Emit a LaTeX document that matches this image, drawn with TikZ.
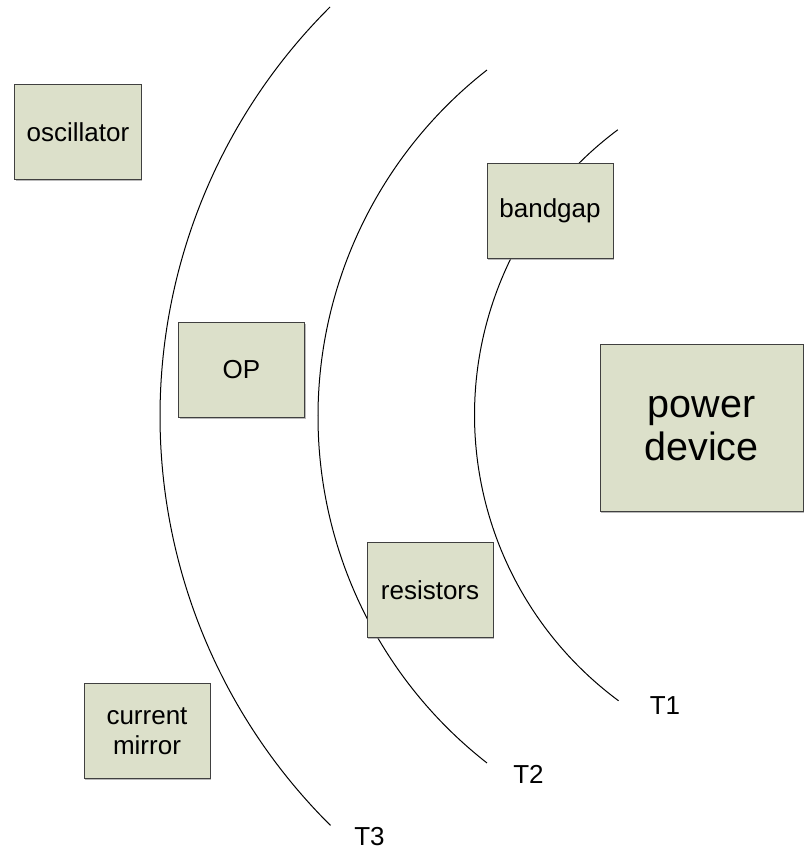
\documentclass[tikz,border=0pt]{standalone}
\usepackage{fontspec}
\setmainfont{Liberation Sans}
\usepackage{tikz}
\usetikzlibrary{calc,shadows}
\definecolor{boxgreen}{RGB}{220,224,202}
\tikzset{
	blockbox/.style={draw=black!75, fill=boxgreen, line width=1bp, inner sep=0pt,
		minimum width=126bp, minimum height=95bp, align=center,
		font=\fontsize{26bp}{30bp}\selectfont,
		drop shadow={shadow xshift=1bp, shadow yshift=-1.5bp, fill=black!45, opacity=0.6}},
	ringlabel/.style={inner sep=0pt, font=\fontsize{26bp}{30bp}\selectfont}
}

\begin{document}
\begin{tikzpicture}[x=1bp, y=1bp]
			%%%%% START %%%%%
			
			\useasboundingbox (0, 0) rectangle (804, 852);
			
			% ring centres
			\coordinate (c1) at (830, 437);
			\coordinate (c2) at (757.7, 435.5);
			\coordinate (c3) at (737, 436);
			
			\draw[line width=1bp] ($(c1)+(126.65:355.5)$) arc (126.65:233.5:355.5);
			\draw[line width=1bp] ($(c2)+(128.0:439.7)$) arc (128.0:232.0:439.7);
			\draw[line width=1bp] ($(c3)+(134.86:577)$) arc (134.86:225.2:577);
			
			\node[ringlabel] (t1) at (665, 146) {T1};
			\node[ringlabel] (t2) at (528.5, 77.5) {T2};
			\node[ringlabel] (t3) at (369.5, 15.5) {T3};
			
			\node[blockbox] (osc) at (78, 719.5) {oscillator};
			\node[blockbox] (bandgap) at (550, 641) {bandgap};
			\node[blockbox] (op) at (241.5, 482) {OP};
			\node[blockbox] (res) at (430, 262) {resistors};
			\node[blockbox] (mirror) at (147, 120.5) {current\\mirror};
			\node[blockbox, minimum width=203bp, minimum height=167bp,
				font=\fontsize{39.5bp}{43bp}\selectfont] (power) at (701.5, 423.5) {power\\device};
			
			%%%%% END %%%%%
\end{tikzpicture}
\end{document}
